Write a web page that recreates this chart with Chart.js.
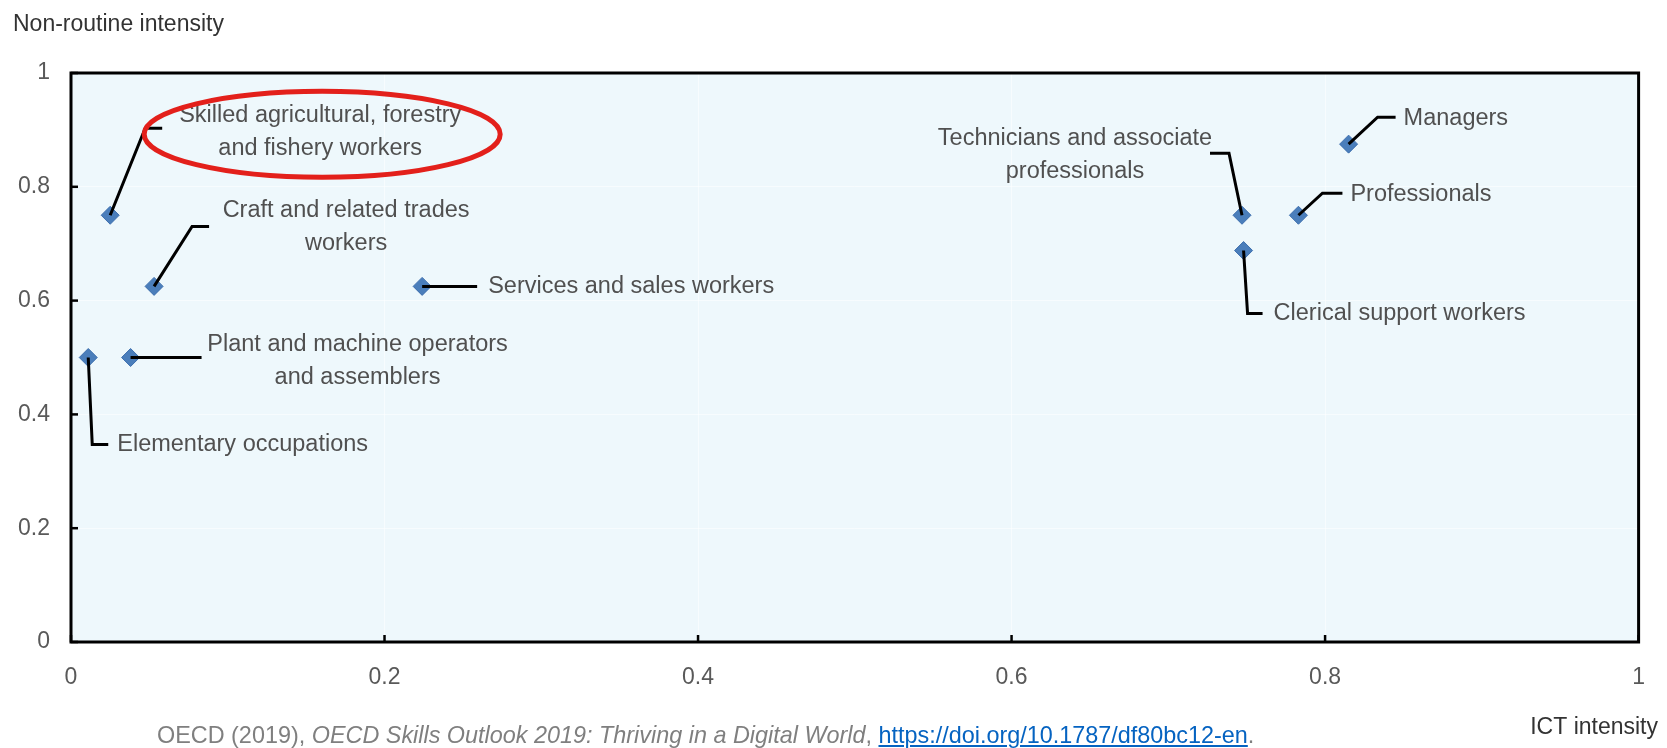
<!DOCTYPE html>
<html>
<head>
<meta charset="utf-8">
<script src="https://cdn.jsdelivr.net/npm/chart.js@4.4.1/dist/chart.umd.min.js"></script>
<style>
html,body{margin:0;padding:0;background:#fff;}
#wrap{position:relative;width:1667px;height:748px;overflow:hidden;}
#source{position:absolute;left:157px;top:722px;font:23.4px "Liberation Sans",Arial,sans-serif;color:#7f7f7f;white-space:nowrap;}
#source a{color:#0563c1;}
</style>
</head>
<body>
<div id="wrap">
<canvas id="chart" width="1667" height="748"></canvas>
<div id="source">OECD (2019), <i>OECD Skills Outlook 2019: Thriving in a Digital World</i>, <a href="https://doi.org/10.1787/df80bc12-en">https://doi.org/10.1787/df80bc12-en</a>.</div>
</div>
<script>
// data
const occupations = ["Managers", "Professionals", "Technicians and associate professionals",
    "Clerical support workers", "Services and sales workers",
    "Skilled agricultural, forestry and fishery workers", "Craft and related trades workers",
    "Plant and machine operators and assemblers", "Elementary occupations"]
const ictIntensity = [0.815, 0.783, 0.747, 0.748, 0.224, 0.025, 0.053, 0.038, 0.011]
const nonRoutineIntensity = [0.875, 0.75, 0.75, 0.688, 0.625, 0.75, 0.625, 0.5, 0.5]
const labelLines = [["Managers"], ["Professionals"], ["Technicians and associate", "professionals"],
    ["Clerical support workers"], ["Services and sales workers"],
    ["Skilled agricultural, forestry", "and fishery workers"], ["Craft and related trades", "workers"],
    ["Plant and machine operators", "and assemblers"], ["Elementary occupations"]]
const tickValues = [0, 0.2, 0.4, 0.6, 0.8, 1]
const tickLabels = ["0", "0.2", "0.4", "0.6", "0.8", "1"]
const xTitle = "ICT intensity"
const yTitle = "Non-routine intensity"
const highlighted = 5 // the label circled in red

// callout placement, offsets in px from the point
const callouts = [
    {path: [[0,0],[29,-27],[47,-27]], text: [55,-26], align: "left"},
    {path: [[0,0],[24,-22],[44,-22]], text: [52,-21], align: "left"},
    {path: [[0,0],[-13,-62],[-32,-62]], text: [-167,-77], align: "center"},
    {path: [[0,0],[4,63],[19,63]], text: [30,63], align: "left"},
    {path: [[0,0],[55,0]], text: [66,0], align: "left"},
    {path: [[0,0],[35,-87],[52,-87]], text: [210,-100], align: "center"},
    {path: [[0,0],[38,-60],[55,-60]], text: [192,-76], align: "center"},
    {path: [[0,0],[71,0]], text: [227,-13], align: "center"},
    {path: [[0,0],[4,87],[20,87]], text: [29,87], align: "left"}
]

const FONT = '"Liberation Sans", Arial, sans-serif'

const decorations = {
    id: "decorations",
    beforeDraw(chart){
        const {ctx, chartArea: a} = chart
        ctx.save()
        ctx.fillStyle = "#eef8fc"
        ctx.fillRect(a.left, a.top, a.right - a.left, a.bottom - a.top)
        ctx.restore()
    },
    afterDatasetsDraw(chart){
        const {ctx, chartArea: a} = chart
        const xs = chart.scales.x, ys = chart.scales.y
        ctx.save()
        // frame
        ctx.strokeStyle = "#000"
        ctx.lineWidth = 3
        ctx.strokeRect(a.left, a.top, a.right - a.left, a.bottom - a.top)
        // inward tick marks
        ctx.lineWidth = 2.5
        tickValues.forEach(v => {
            let px = xs.getPixelForValue(v)
            ctx.beginPath(); ctx.moveTo(px, a.bottom); ctx.lineTo(px, a.bottom - 7); ctx.stroke()
            let py = ys.getPixelForValue(v)
            ctx.beginPath(); ctx.moveTo(a.left, py); ctx.lineTo(a.left + 7, py); ctx.stroke()
        })
        // callouts
        const meta = chart.getDatasetMeta(0)
        ctx.font = "23.5px " + FONT
        ctx.textBaseline = "middle"
        meta.data.forEach((pt, i) => {
            const c = callouts[i]
            ctx.strokeStyle = "#000"
            ctx.lineWidth = 3
            ctx.beginPath()
            c.path.forEach(([dx, dy], k) => {
                if(k == 0) ctx.moveTo(pt.x + dx, pt.y + dy)
                else ctx.lineTo(pt.x + dx, pt.y + dy)
            })
            ctx.stroke()
            ctx.fillStyle = "#505050"
            ctx.textAlign = c.align
            labelLines[i].forEach((line, k) => {
                ctx.fillText(line, pt.x + c.text[0], pt.y + c.text[1] + k * 33)
            })
        })
        // red ring around the highlighted label
        const hp = meta.data[highlighted]
        ctx.strokeStyle = "#e3201b"
        ctx.lineWidth = 5
        ctx.beginPath()
        ctx.ellipse(hp.x + 212, hp.y - 81, 178, 43, 0, 0, Math.PI * 2)
        ctx.stroke()
        // axis titles
        ctx.font = "23px " + FONT
        ctx.fillStyle = "#333"
        ctx.textAlign = "left"
        ctx.fillText(yTitle, 13, 25)
        ctx.textAlign = "right"
        ctx.fillText(xTitle, 1658, 728)
        ctx.restore()
    }
}

const ctx = document.getElementById("chart").getContext("2d")
new Chart(ctx, {
    type: "scatter",
    data: {
        datasets: [{
            label: "Occupations",
            data: occupations.map((name, i) => ({x: ictIntensity[i], y: nonRoutineIntensity[i]})),
            pointStyle: "rectRot",
            pointRadius: 9,
            pointHoverRadius: 9,
            backgroundColor: "#4a7ebb",
            borderColor: "#3d6fae",
            borderWidth: 1
        }]
    },
    options: {
        responsive: false,
        animation: false,
        events: [],
        layout: {padding: {top: 73, right: 26, left: 0, bottom: 0}},
        plugins: {legend: {display: false}, tooltip: {enabled: false}},
        scales: {
            x: {
                min: 0, max: 1,
                afterBuildTicks: s => { s.ticks = tickValues.map(v => ({value: v})) },
                afterFit: s => { s.height = 106 },
                grid: {color: "rgba(255,255,255,0.55)", drawTicks: false},
                border: {display: false},
                ticks: {padding: 22, color: "#595959", font: {family: FONT, size: 23},
                    callback: (v, i) => tickLabels[i]}
            },
            y: {
                min: 0, max: 1,
                afterBuildTicks: s => { s.ticks = tickValues.map(v => ({value: v})) },
                afterFit: s => { s.width = 71 },
                grid: {color: "rgba(255,255,255,0.55)", drawTicks: false},
                border: {display: false},
                ticks: {padding: 21, color: "#595959", font: {family: FONT, size: 23},
                    callback: (v, i) => tickLabels[i]}
            }
        }
    },
    plugins: [decorations]
})
</script>
</body>
</html>
